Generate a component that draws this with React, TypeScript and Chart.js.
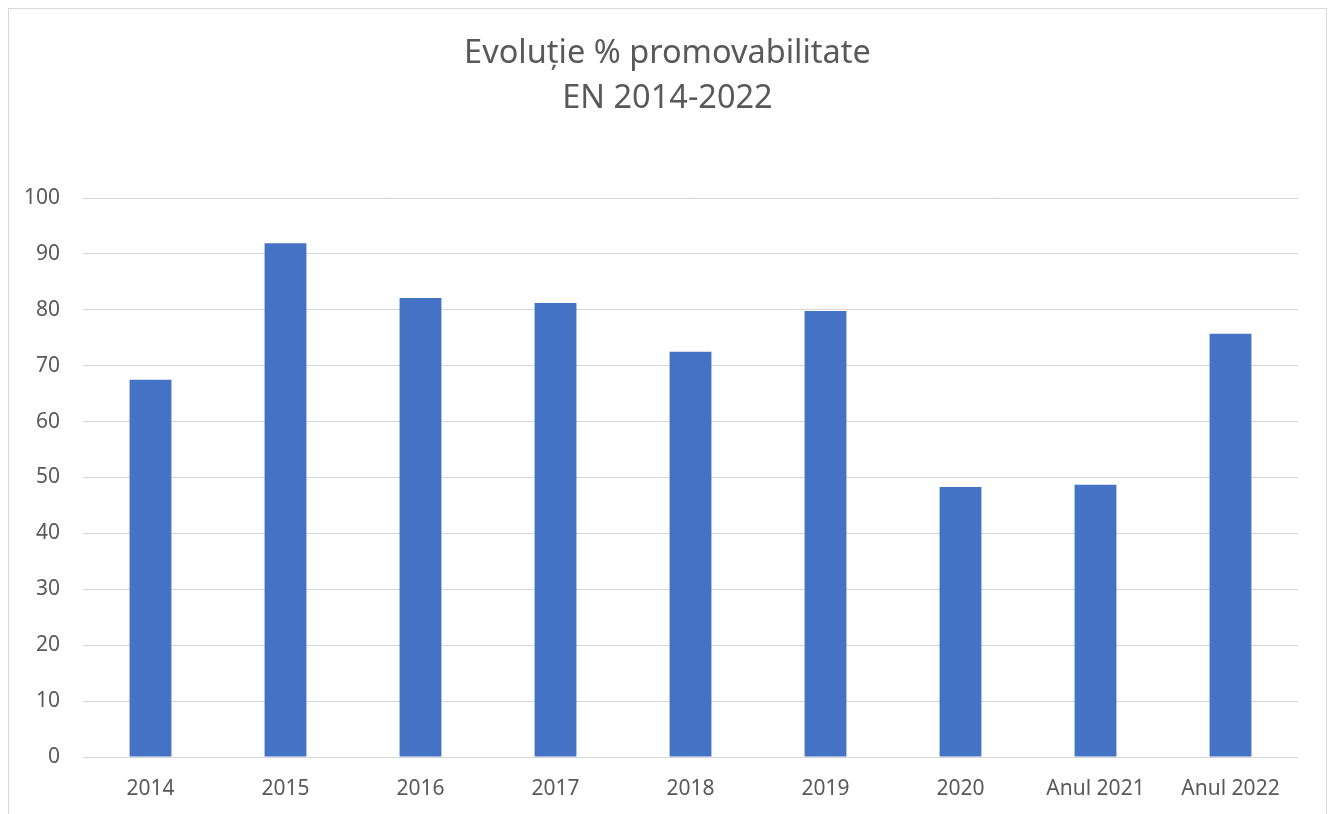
import React, { useEffect, useRef } from "react";
import { Chart, registerables } from "chart.js";

Chart.register(...registerables);

const categories = ["2014", "2015", "2016", "2017", "2018", "2019", "2020", "Anul 2021", "Anul 2022"];
const promovabilitate = [67.5, 91.9, 82.1, 81.2, 72.5, 79.8, 48.3, 48.7, 75.7];
const titleLines = ["Evoluție % promovabilitate", "EN 2014-2022"];
const yMin = 0;
const yMax = 100;
const yStep = 10;

const FONT = "'Noto Sans', 'Open Sans', sans-serif";
const TEXT = "#595959";

export default function App() {
  const ref = useRef<HTMLCanvasElement | null>(null);

  useEffect(() => {
    if (!ref.current) return;
    const chart = new Chart(ref.current, {
      type: "bar",
      data: {
        labels: categories,
        datasets: [
          {
            label: "Promovabilitate",
            data: promovabilitate,
            backgroundColor: "#4472C4",
            borderWidth: 0,
            categoryPercentage: 1,
            barPercentage: 0.31,
            yAxisID: "y",
          },
        ],
      },
      options: {
        animation: false,
        responsive: false,
        maintainAspectRatio: false,
        layout: { padding: { left: 0, right: 0, top: 0, bottom: 0 } },
        plugins: {
          legend: { display: false },
          tooltip: { enabled: false },
          title: {
            display: true,
            text: titleLines,
            color: TEXT,
            font: { family: FONT, size: 32.5, weight: "normal", lineHeight: 45 / 32.5 },
            padding: { top: 22, bottom: 77 },
          },
        },
        scales: {
          x: {
            grid: { display: false, drawTicks: false },
            border: { display: false },
            ticks: { color: TEXT, font: { family: FONT, size: 21 }, padding: 19 },
            afterFit: (scale: any) => {
              scale.height = 57;
            },
          },
          y: {
            min: yMin,
            max: yMax,
            grid: { color: "#d6d6d6", lineWidth: 1, drawTicks: false },
            border: { display: false },
            ticks: { stepSize: yStep, color: TEXT, font: { family: FONT, size: 21 }, padding: 23 },
            afterFit: (scale: any) => {
              scale.width = 74;
            },
          },
          spacer: {
            type: "linear",
            position: "right",
            display: true,
            grid: { display: false, drawTicks: false },
            border: { display: false },
            ticks: { display: false },
            afterFit: (scale: any) => {
              scale.width = 28;
            },
          },
        },
      },
    });
    return () => chart.destroy();
  }, []);

  return (
    <div
      style={{
        width: 1317,
        height: 805,
        border: "1px solid #d9d9d9",
        borderBottom: "none",
        background: "#fff",
        overflow: "hidden",
      }}
    >
      <canvas ref={ref} width={1317} height={805} style={{ display: "block" }} />
    </div>
  );
}
